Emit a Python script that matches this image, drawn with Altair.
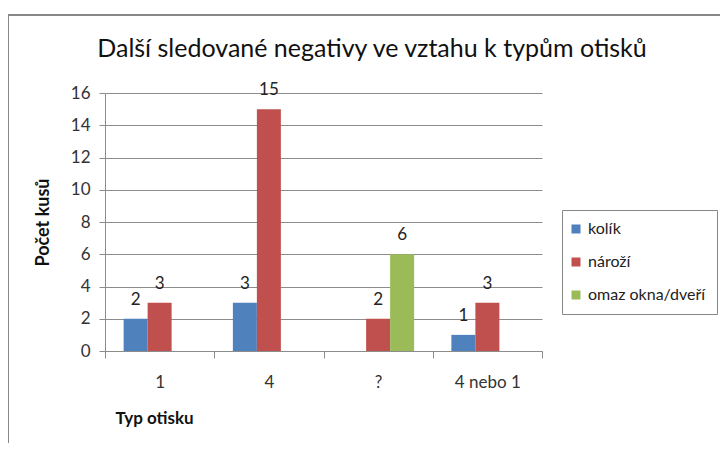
import altair as alt
import pandas as pd

categories = ["1", "4", "?", "4 nebo 1"]
series = ["kolík", "nároží", "omaz okna/dveří"]
kolik = [2, 3, None, 1]
narozi = [3, 15, 2, 3]
omaz = [None, None, 6, None]
colors = ["#4F81BD", "#C0504D", "#9BBB59"]
title_text = "Další sledované negativy ve vztahu k typům otisků"

rows = []
for name, vals in zip(series, [kolik, narozi, omaz]):
    for c, v in zip(categories, vals):
        if v is not None:
            rows.append({"typ": c, "serie": name, "pocet": v})
df = pd.DataFrame(rows)

FONT = "Lato"

x_enc = alt.X("typ:N", sort=categories,
              scale=alt.Scale(paddingInner=0, paddingOuter=0),
              axis=alt.Axis(title="Typ otisku", labelAngle=0, tickBand="extent",
                            labelFontSize=17, labelPadding=16, tickSize=7,
                            titleX=10, titleY=67, titleAlign="left", titleBaseline="middle",
                            titleFontSize=17, titleFontWeight="bold"))
xoff = alt.XOffset("serie:N", sort=series,
                   scale=alt.Scale(domain=series, paddingInner=0, paddingOuter=0.776))
y_enc = alt.Y("pocet:Q", scale=alt.Scale(domain=[0, 16], nice=False),
              axis=alt.Axis(title="Počet kusů", values=list(range(0, 17, 2)),
                            labelFontSize=17, tickSize=6, labelPadding=9,
                            titleAngle=-90, titleX=-62, titleY=129,
                            titleAlign="center", titleBaseline="middle",
                            titleFontSize=18, titleFontWeight="bold"))

bars = alt.Chart(df).mark_bar(size=24).encode(
    x=x_enc, xOffset=xoff, y=y_enc,
    color=alt.Color("serie:N", sort=series,
                    scale=alt.Scale(domain=series, range=colors),
                    legend=alt.Legend(title=None, orient="none", legendX=457, legendY=117,
                                      symbolType="square", symbolSize=81,
                                      labelFontSize=16, labelOffset=4, symbolOffset=-5,
                                      rowPadding=17, padding=11,
                                      strokeColor="#888", symbolStrokeWidth=0)),
)

labels = alt.Chart(df).mark_text(baseline="alphabetic", dy=-14, fontSize=17,
                                 color="#222", font=FONT).encode(
    x=x_enc, xOffset=xoff, y=y_enc,
    text="pocet:Q",
)

frame = alt.Chart(pd.DataFrame({"a": [0]})).mark_rect(
    fill=None, stroke="#888", strokeWidth=2).encode(
    x=alt.value(-97), x2=alt.value(640), y=alt.value(-78), y2=alt.value(400))

title = alt.Chart(pd.DataFrame({"t": [title_text]})).mark_text(
    fontSize=25, font=FONT, color="#111", align="center", baseline="alphabetic").encode(
    x=alt.value(267), y=alt.value(-36), text="t:N")

chart = alt.layer(frame, title, bars, labels).properties(
    width=437, height=258,
    autosize=alt.AutoSizeParams(type="none"),
    padding={"left": 97, "top": 85, "right": 178, "bottom": 92},
).configure(font=FONT).configure_view(stroke=None).configure_axis(
    gridColor="#8c8c8c", domainColor="#8c8c8c", tickColor="#8c8c8c",
    labelColor="#333", titleColor="#111", labelFont=FONT, titleFont=FONT,
).configure_axisX(grid=False).configure_legend(labelFont=FONT, labelColor="#222")

chart.save("out.html", embed_options={"renderer": "svg", "actions": False})
